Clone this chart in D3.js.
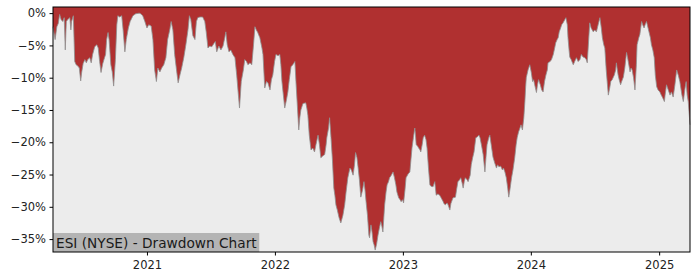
<!DOCTYPE html>
<html><head><meta charset="utf-8">
<script src="https://cdn.jsdelivr.net/npm/d3@7"></script>
<style>body{margin:0;background:#fff}svg{display:block}text{font-family:"DejaVu Sans",sans-serif}</style>
</head><body>
<svg id="c" width="700" height="280"></svg>
<script>
const startDate = "2020-04-08";
const dayOffsets = [0,6,11,15,19,23,28,32,35,38,42,48,51,53,58,62,66,71,75,79,82,86,91,95,99,105,109,113,119,125,129,133,137,142,147,150,153,157,160,165,169,173,178,182,185,190,196,200,205,209,215,220,228,236,246,250,256,262,268,273,280,285,290,295,299,305,310,316,322,327,333,337,342,347,353,357,362,367,373,379,385,389,393,399,405,409,413,419,427,433,437,442,447,453,459,463,467,473,479,485,490,493,497,502,507,513,519,524,532,537,543,547,552,556,562,567,572,576,580,584,590,596,599,604,609,613,619,623,627,632,636,642,647,650,653,661,666,670,674,679,684,690,693,701,704,707,713,721,724,727,731,736,741,746,750,756,760,764,770,775,779,781,786,789,793,797,801,804,807,811,816,821,827,832,836,841,847,851,856,860,863,867,870,874,878,883,887,890,893,897,901,903,907,910,913,916,919,923,927,931,935,938,941,946,950,953,957,960,964,970,974,978,981,986,990,993,997,1000,1004,1007,1013,1018,1021,1024,1028,1032,1034,1036,1040,1043,1047,1049,1053,1056,1060,1064,1067,1071,1075,1078,1084,1089,1093,1098,1103,1107,1113,1115,1119,1124,1127,1132,1135,1141,1148,1151,1155,1160,1163,1167,1170,1173,1176,1181,1184,1190,1193,1197,1201,1206,1210,1215,1218,1222,1227,1232,1235,1238,1243,1246,1250,1255,1260,1265,1268,1272,1277,1282,1285,1289,1293,1297,1300,1304,1308,1312,1317,1321,1324,1328,1332,1335,1339,1343,1346,1348,1350,1355,1360,1364,1368,1371,1374,1379,1382,1385,1388,1390,1394,1398,1402,1406,1410,1412,1418,1422,1427,1431,1434,1438,1441,1444,1448,1451,1455,1460,1463,1467,1469,1472,1474,1478,1484,1488,1493,1498,1503,1507,1512,1517,1521,1524,1528,1531,1535,1541,1545,1550,1555,1560,1564,1567,1571,1574,1578,1584,1588,1591,1595,1601,1605,1607,1609,1612,1615,1619,1622,1627,1631,1636,1639,1646,1649,1652,1656,1660,1664,1666,1671,1674,1679,1682,1686,1689,1693,1696,1700,1704,1707,1711,1715,1718,1722,1726,1731,1735,1739,1744,1746,1750,1755,1760,1764,1769,1774,1779,1784,1788,1794,1798,1802,1806,1809,1812,1817];
const drawdown = [-2.1,-4.1,-2.1,-1.6,-0.2,-1.0,-1.3,-0.7,-5.7,-1.3,-1.0,-0.7,-2.6,-1.3,-0.4,-7.5,-8.0,-8.2,-8.5,-10.5,-9.1,-7.8,-7.2,-7.7,-7.2,-6.9,-7.7,-6.4,-5.2,-4.9,-5.4,-7.5,-9.2,-7.8,-6.9,-6.4,-4.1,-3.0,-4.1,-8.0,-9.1,-11.3,-7.2,-1.8,-0.4,-0.6,-0.4,-2.6,-6.0,-4.1,-2.3,-1.3,-0.4,-0.1,0,-0.1,-0.4,-1.3,-2.3,-1.8,-2.0,-4.1,-8.8,-10.6,-8.5,-9.1,-8.5,-8.0,-6.9,-4.1,-2.6,-1.3,-2.6,-6.4,-9.1,-10.8,-9.6,-8.5,-6.9,-4.9,-2.6,-0.4,-1.0,-3.5,-4.1,-1.3,-0.7,-0.6,-0.6,-1.3,-2.9,-5.4,-5.1,-5.2,-4.7,-4.4,-6.0,-5.1,-5.7,-5.1,-3.8,-2.9,-4.9,-6.0,-5.7,-6.4,-6.9,-9.6,-14.7,-10.6,-8.8,-7.2,-7.5,-8.0,-7.7,-8.0,-4.9,-2.1,-2.6,-3.0,-3.8,-5.4,-6.4,-11.6,-10.6,-10.8,-11.9,-10.3,-9.6,-7.5,-6.4,-6.6,-6.4,-8.0,-10.6,-14.7,-13.4,-12.2,-10.3,-8.3,-8.0,-7.5,-10.6,-18.1,-16.2,-15.0,-14.0,-13.9,-14.7,-15.8,-18.9,-21.2,-20.9,-21.5,-20.4,-18.9,-20.4,-22.4,-22.1,-21.9,-20.4,-19.3,-17.8,-16.2,-19.3,-22.7,-27.1,-28.2,-29.7,-30.5,-31.7,-32.5,-31.3,-29.7,-27.7,-25.5,-24.0,-24.3,-25.1,-23.5,-21.6,-22.4,-23.8,-25.8,-28.5,-27.4,-26.1,-27.4,-29.2,-31.3,-34.4,-34.8,-32.8,-33.9,-35.4,-35.9,-36.7,-35.8,-34.4,-33.3,-32.3,-33.0,-33.9,-29.7,-27.7,-26.6,-26.1,-25.5,-25.2,-24.6,-25.5,-26.6,-27.7,-28.6,-28.9,-29.2,-28.9,-29.4,-27.4,-25.5,-24.9,-24.6,-22.7,-20.9,-19.3,-17.8,-18.9,-20.4,-20.6,-20.9,-21.2,-21.5,-20.4,-19.3,-18.9,-19.6,-20.9,-24.0,-26.6,-26.8,-26.9,-26.1,-28.2,-28.0,-28.2,-28.6,-29.2,-29.5,-29.7,-29.4,-29.7,-30.5,-29.5,-28.6,-28.5,-27.4,-26.1,-25.8,-25.5,-26.3,-27.1,-26.1,-25.5,-25.8,-26.1,-25.1,-23.5,-22.4,-21.5,-19.3,-19.2,-18.9,-19.3,-20.4,-21.9,-24.6,-22.4,-20.4,-19.3,-18.9,-20.4,-22.3,-23.2,-24.0,-23.5,-23.8,-23.7,-24.3,-24.0,-24.6,-25.5,-27.1,-28.5,-27.1,-25.5,-24.3,-22.4,-20.4,-19.3,-18.4,-17.8,-17.3,-18.1,-16.2,-13.7,-11.6,-10.0,-8.8,-8.0,-9.1,-10.6,-10.3,-11.1,-12.3,-11.1,-10.3,-10.8,-11.1,-11.9,-12.2,-10.6,-9.6,-8.8,-7.7,-7.5,-7.2,-6.4,-5.4,-4.6,-4.1,-3.8,-2.9,-2.3,-1.8,-1.5,-1.0,-0.7,-1.8,-3.8,-5.7,-6.8,-7.2,-8.0,-7.5,-6.9,-7.5,-7.2,-6.4,-6.8,-6.9,-7.2,-7.7,-4.1,-1.5,-2.3,-2.9,-2.6,-2.9,-1.8,-0.7,-2.3,-3.8,-4.9,-5.4,-8.8,-12.7,-11.6,-10.6,-10.3,-9.6,-8.8,-7.7,-8.5,-9.6,-10.3,-11.1,-10.6,-9.9,-8.5,-6.1,-6.9,-9.1,-8.5,-8.8,-10.0,-11.9,-8.0,-4.9,-3.8,-3.3,-1.3,-1.8,-2.3,-1.8,-1.3,-2.0,-2.9,-3.8,-4.9,-5.7,-6.9,-9.6,-11.4,-11.9,-12.2,-12.7,-13.1,-13.7,-12.7,-11.1,-11.9,-12.7,-12.2,-13.0,-11.1,-8.8,-9.7,-10.6,-12.7,-13.7,-11.9,-10.6,-12.7,-13.7,-17.3];
const yTicks = [0,-5,-10,-15,-20,-25,-30,-35];
const xTickYears = [2021,2022,2023,2024,2025];
const yDomain = [-37.0, 0.95];
const title = "ESI (NYSE) - Drawdown Chart";

const parse = d3.utcParse("%Y-%m-%d");
const t0 = parse(startDate);
const data = dayOffsets.map((d,i)=>({date:d3.utcDay.offset(t0,d), v:drawdown[i]}));

const L=53, R=690, T=7, B=252;
const svg = d3.select("#c");
const x = d3.scaleUtc().domain(d3.extent(data,d=>d.date)).range([L,R]);
const y = d3.scaleLinear().domain(yDomain).range([B,T]);

svg.append("rect").attr("x",L).attr("y",T).attr("width",R-L).attr("height",B-T).attr("fill","#ececec");

const area = d3.area().x(d=>x(d.date)).y0(y(yDomain[1])).y1(d=>y(d.v));
svg.append("path").datum(data).attr("d",area).attr("fill","#b03030");
svg.append("path").datum(data).attr("d",d3.line().x(d=>x(d.date)).y(d=>y(d.v)))
  .attr("fill","none").attr("stroke","#8f8f8f").attr("stroke-width",0.8);

// label box
const g = svg.append("g");
const lbl = g.append("text").attr("x",L+3).attr("y",B-4.5).attr("font-size",13.7).attr("fill","#1a1a1a").text(title);
const bb = lbl.node().getBBox();
g.insert("rect","text").attr("x",L).attr("y",B-19).attr("width",bb.width+5).attr("height",19).attr("fill","#b4b4b4");

// frame
svg.append("rect").attr("x",L).attr("y",T).attr("width",R-L).attr("height",B-T)
  .attr("fill","none").attr("stroke","#000").attr("stroke-width",1);

// y axis
const fmt = v => (v<0?"\u2212":"") + Math.abs(v) + "%";
const yAxis = svg.append("g").attr("transform",`translate(${L},0)`)
  .call(d3.axisLeft(y).tickValues(yTicks).tickSize(3.5).tickPadding(3.5).tickFormat(fmt));
yAxis.select(".domain").remove();
yAxis.selectAll("text").attr("font-size",11.5).attr("font-family","DejaVu Sans").attr("fill","#222");
yAxis.selectAll("line").attr("stroke","#000");

// x axis
const xAxis = svg.append("g").attr("transform",`translate(0,${B})`)
  .call(d3.axisBottom(x).tickValues(xTickYears.map(yr=>new Date(Date.UTC(yr,0,1)))).tickSize(3.5).tickPadding(5).tickFormat(d3.utcFormat("%Y")));
xAxis.select(".domain").remove();
xAxis.selectAll("text").attr("font-size",11.5).attr("font-family","DejaVu Sans").attr("fill","#222");
xAxis.selectAll("line").attr("stroke","#000");
</script>
</body></html>
